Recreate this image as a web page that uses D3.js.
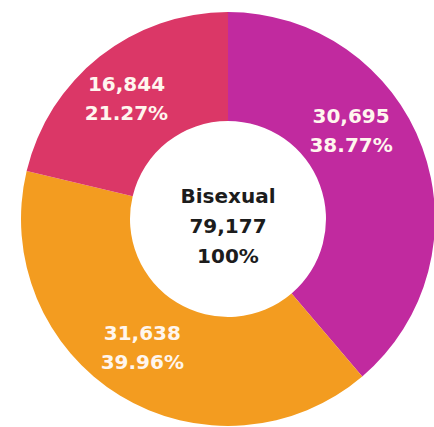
<!DOCTYPE html>
<html>
<head>
<meta charset="utf-8">
<script src="https://cdn.jsdelivr.net/npm/d3@7"></script>
<style>
  html, body { margin: 0; padding: 0; background: #fff; }
  svg { display: block; }
</style>
</head>
<body>
<svg id="chart" width="434" height="427"></svg>
<script>
const categories = ["Group A", "Group B", "Group C"];
const values = [30695, 31638, 16844];
const percents = ["38.77%", "39.96%", "21.27%"];
const colors = ["#c12a9f", "#f39c20", "#db3767"];
const centerTitle = "Bisexual";
const centerTotal = "79,177";
const centerPct = "100%";

const W = 434, H = 427;
const cx = 228, cy = 219, rOuter = 207, rInner = 98;
// layout nudges for label placement (pixels), per slice
const labelNudge = [[-20, -39], [-6, -5], [-7, -4]];

const svg = d3.select("#chart");
const g = svg.append("g").attr("transform", `translate(${cx},${cy})`);

const pie = d3.pie().sort(null).value(d => d.value);
const data = categories.map((c, i) => ({ cat: c, value: values[i], pct: percents[i], color: colors[i], nudge: labelNudge[i] }));
const arcs = pie(data);

const arc = d3.arc().innerRadius(rInner).outerRadius(rOuter);
const labelArc = d3.arc().innerRadius((rInner + rOuter) / 2).outerRadius((rInner + rOuter) / 2);

g.selectAll("path.slice").data(arcs).enter().append("path")
  .attr("class", "slice")
  .attr("d", arc)
  .attr("fill", d => d.data.color);

const fmt = d3.format(",");
const font = "'DejaVu Sans', sans-serif";

const lab = g.selectAll("g.lab").data(arcs).enter().append("g")
  .attr("class", "lab")
  .attr("transform", d => {
    const c = labelArc.centroid(d);
    return `translate(${c[0] + d.data.nudge[0]},${c[1] + d.data.nudge[1]})`;
  });
lab.append("text")
  .attr("text-anchor", "middle")
  .attr("y", -4)
  .attr("font-family", font).attr("font-weight", "bold").attr("font-size", 20)
  .attr("fill", "#fff6ee")
  .text(d => fmt(d.data.value));
lab.append("text")
  .attr("text-anchor", "middle")
  .attr("y", 25)
  .attr("font-family", font).attr("font-weight", "bold").attr("font-size", 20)
  .attr("fill", "#fff6ee")
  .text(d => d.data.pct);

const ct = g.append("g");
[centerTitle, centerTotal, centerPct].forEach((t, i) => {
  ct.append("text")
    .attr("text-anchor", "middle")
    .attr("y", -16 + i * 30)
    .attr("font-family", font).attr("font-weight", "bold").attr("font-size", 20)
    .attr("fill", "#1c1c1c")
    .text(t);
});
</script>
</body>
</html>
